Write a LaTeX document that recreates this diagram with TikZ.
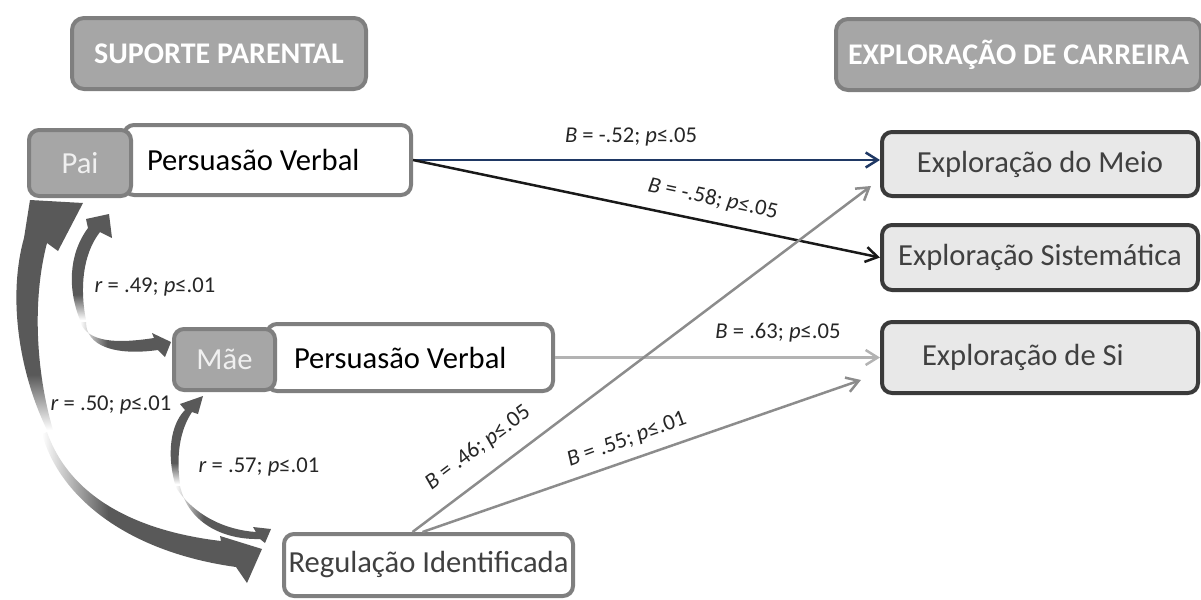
\documentclass[tikz,border=0pt]{standalone}
\usepackage{fontspec}
\setmainfont{Carlito}
\usetikzlibrary{arrows.meta}
\definecolor{agray}{HTML}{595959}
\definecolor{hdrfill}{HTML}{A6A6A6}
\definecolor{hdrline}{HTML}{7F7F7F}
\definecolor{exfill}{HTML}{E8E8E8}
\definecolor{exline}{HTML}{3A3A3A}
\definecolor{navy}{HTML}{1F3864}
\definecolor{lgray}{HTML}{B3B3B3}
\definecolor{mgray}{HTML}{8C8C8C}
\definecolor{txtgray}{HTML}{404040}
\pgfdeclareverticalshading{fadebottom}{100bp}{color(0bp)=(white); color(25bp)=(white); color(37bp)=(agray); color(100bp)=(agray)}
\pgfdeclarehorizontalshading{fadeleft}{100bp}{color(0bp)=(white); color(25bp)=(white); color(40bp)=(agray); color(100bp)=(agray)}
\begin{document}
\begin{tikzpicture}[x=0.5pt,y=-0.5pt,
  hdr/.style={draw=hdrline, fill=hdrfill, line width=2pt, rounded corners=6pt, text=white, font=\fontsize{15}{18}\selectfont\bfseries, minimum height=35.5pt, inner sep=0pt},
  tag/.style={draw=hdrline, fill=hdrfill, line width=2pt, rounded corners=5pt, text=white!94!black, font=\fontsize{15.3}{18}\selectfont, inner sep=0pt},
  wbox/.style={draw=hdrline, fill=white, line width=2pt, rounded corners=5pt, font=\fontsize{15.3}{18}\selectfont, inner sep=0pt},
  ebox/.style={draw=exline, fill=exfill, line width=2pt, rounded corners=5pt, text=txtgray, font=\fontsize{15.3}{18}\selectfont, inner sep=0pt, minimum width=158pt},
  lab/.style={font=\fontsize{11.3}{13}\selectfont, inner sep=0pt, text=black!85},
  conn/.style={line width=1.25pt, -{Straight Barb[length=6pt,width=7.5pt]}}
]
\useasboundingbox (0,0) rectangle (1201,600);
\clip (0,0) rectangle (1201,600);

% headers
\node[hdr, minimum width=147pt] (h1) at (219,53.5) {SUPORTE PARENTAL};
\node[hdr, minimum width=182.5pt] (h2) at (1018.5,54.5) {EXPLORAÇÃO DE CARREIRA};

% left boxes
\node[wbox, minimum width=143.5pt, minimum height=35pt] (pvp) at (267.5,160) {\makebox[143.5pt][l]{\hspace*{11.5pt}Persuasão Verbal}};
\node[tag, minimum width=51pt, minimum height=33pt] (pai) at (80,163) {Pai};
\node[wbox, minimum width=143pt, minimum height=33.5pt] (pvm) at (410,357.5) {\makebox[143pt][l]{\hspace*{13.5pt}Persuasão Verbal}};
\node[tag, minimum width=50.5pt, minimum height=30.5pt] (mae) at (224.5,359.5) {Mãe};
\node[wbox, text=txtgray, minimum width=144.5pt, minimum height=31pt] (reg) at (428.5,565) {Regulação Identificada};

% right boxes
\node[ebox, minimum height=32pt] (meio) at (1040,164) {Exploração do Meio};
\node[ebox, minimum height=32.5pt] (sist) at (1040,257.5) {Exploração Sistemática};
\node[ebox, minimum height=35.5pt] (si) at (1040,357.5) {\makebox[158pt][l]{\hspace*{20pt}Exploração de Si}};

% connectors
\coordinate (e1) at ([xshift=-4.5pt,yshift=6pt]meio.south west);
\coordinate (e2) at ([xshift=-9.5pt,yshift=7.5pt]si.south west);
\draw[conn, navy] (pvp.east) -- (pvp.east -| meio.west);
\draw[conn, black!90] (pvp.east) -- (sist.west);
\draw[conn, lgray] (pvm.east) -- (si.west);
\draw[conn, mgray] ([xshift=-8pt]reg.north) -- (e1);
\draw[conn, mgray] ([xshift=-3pt]reg.north) -- (e2);

% labels
\node[lab] (l1) at (631,137) {\textit{B} = -.52; \textit{p}≤.05};
\node[lab, rotate=-12] (l2) at (713,199) {\textit{B} = -.58; \textit{p}≤.05};
\node[lab] (l3) at (778,333) {\textit{B} = .63; \textit{p}≤.05};
\node[lab, rotate=37] (l4) at (478,448) {\textit{B} = .46; \textit{p}≤.05};
\node[lab, rotate=20] (l5) at (627,440) {\textit{B} = .55; \textit{p}≤.01};
\node[lab] (l6) at (155,287) {\textit{r} = .49; \textit{p}≤.01};
\node[lab] (l7) at (111,405) {\textit{r} = .50; \textit{p}≤.01};
\node[lab] (l8) at (259,467) {\textit{r} = .57; \textit{p}≤.01};

% correlation arrows (Pai - Regulação)
\shade[shading=fadebottom] (47,430) .. controls (18,370) and (8,295) .. (24,238) -- (30,200) -- (83,203) -- (58,251) -- (47,243) .. controls (32,300) and (36,372) .. (53,430) -- cycle;
\shade[shading=fadeleft] (47,432) .. controls (68,492) and (128,530) .. (221,541) -- (220,536) -- (262,549) -- (247,583) -- (236,567) .. controls (128,552) and (60,498) .. (42,434) -- cycle;
% Pai - Mãe
\shade[shading=fadebottom] (80,320) .. controls (68,290) and (68,255) .. (88,228) -- (86,219) -- (109,214) -- (112,238) -- (100,232) .. controls (82,255) and (80,290) .. (86,320) -- cycle;
\shade[shading=fadeleft] (80,322) .. controls (88,342) and (115,344) .. (154,338) -- (152,333) -- (171,342) -- (165,357) -- (158,350) .. controls (115,356) and (86,346) .. (86,322) -- cycle;
% Mãe - Regulação
\shade[shading=fadebottom] (175,484) .. controls (167,455) and (170,425) .. (185,410) -- (180,404) -- (203,396) -- (198,414) -- (192,412) .. controls (180,430) and (176,455) .. (180,484) -- cycle;
\shade[shading=fadeleft] (175,486) .. controls (193,515) and (225,530) .. (256,532) -- (253,527) -- (271,529) -- (265,543) -- (260,539) .. controls (222,540) and (188,522) .. (180,486) -- cycle;
\end{tikzpicture}
\end{document}
